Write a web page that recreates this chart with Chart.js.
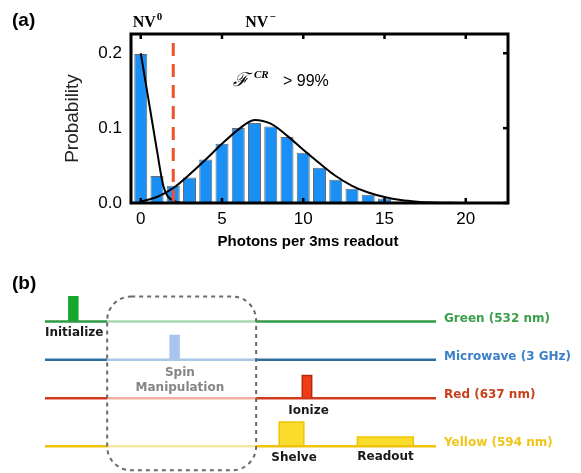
<!DOCTYPE html>
<html>
<head>
<meta charset="utf-8">
<script src="https://cdn.jsdelivr.net/npm/chart.js@4"></script>
<style>
  body { margin: 0; background: #fff; }
  #wrap { position: relative; width: 581px; height: 473px; }
  canvas { position: absolute; left: 0; }
  #histChart { top: 0; }
  #seqChart { top: 260px; }
</style>
</head>
<body>
<div id="wrap">
  <canvas id="histChart" width="581" height="260"></canvas>
  <canvas id="seqChart" width="581" height="213"></canvas>
</div>
<script>
// panel (a): photon count histogram
const photonBins = [0, 1, 2, 3, 4, 5, 6, 7, 8, 9, 10, 11, 12, 13, 14, 15, 16, 17];
const probability = [0.199, 0.036, 0.023, 0.034, 0.058, 0.079, 0.100, 0.107, 0.102, 0.088, 0.067, 0.047, 0.031, 0.019, 0.011, 0.006, 0.002, 0.001];
const nv0FitX = [0, 0.5, 1, 1.4, 2, 2.5, 3];
const nv0FitY = [0.2, 0.135, 0.07, 0.022, 0.003, 0.0005, 0];
const nvmFitX = [0, 1, 2, 3, 4, 5, 6, 7, 8, 9, 10, 11, 12, 13, 14, 15, 16, 17, 18, 19, 20, 22.6];
const nvmFitY = [0.002, 0.008, 0.02, 0.038, 0.058, 0.079, 0.098, 0.111, 0.106, 0.09, 0.071, 0.053, 0.036, 0.023, 0.014, 0.008, 0.004, 0.0018, 0.0007, 0.0002, 0.0001, 0];
const threshold = 2;
const xTicks = [0, 5, 10, 15, 20];
const yTicks = [0, 0.1, 0.2];
const xMin = -0.6, xMax = 22.6, yMax = 0.2257;

// panel (b): pulse sequence
const channels = ['Green (532 nm)', 'Microwave (3 GHz)', 'Red (637 nm)', 'Yellow (594 nm)'];
const channelLevel = [4, 3, 2, 0.75];
const pulseChannel = [0, 1, 2, 3, 3];
const pulseStart = [6.1, 32.0, 65.8, 59.9, 79.9];
const pulseEnd = [8.4, 34.3, 68.2, 66.2, 94.2];
const pulseHeight = [0.64, 0.63, 0.59, 0.63, 0.24];
const boxStart = 15.9, boxEnd = 54.0;

const lineColor = ['#2f9a45', '#2c6e9e', '#cf3a1f', '#f1c20c'];
const fadeColor = ['#a9d9b2', '#a9c8e6', '#f2aea0', '#f7e6a0'];
const labelColor = ['#3aa04a', '#3d80c6', '#c8401e', '#f2c318'];
const pulseFill = ['#13a82b', '#a9c5ee', '#f23c16', '#f9dc2c', '#f9dc2c'];
const pulseBorder = ['#13a82b', '#a9c5ee', '#b02a10', '#eec400', '#eec400'];

const histDecor = {
  id: 'histDecor',
  afterDraw(chart) {
    const { ctx, chartArea: a, scales: { x, y } } = chart;
    ctx.save();
    ctx.strokeStyle = '#000';
    ctx.lineWidth = 3;
    ctx.strokeRect(a.left, a.top, a.right - a.left, a.bottom - a.top);
    ctx.lineWidth = 2.5;
    xTicks.forEach(v => {
      const px = x.getPixelForValue(v);
      ctx.beginPath();
      ctx.moveTo(px, a.top); ctx.lineTo(px, a.top + 5);
      ctx.moveTo(px, a.bottom); ctx.lineTo(px, a.bottom - 5);
      ctx.stroke();
    });
    yTicks.forEach(v => {
      const py = y.getPixelForValue(v);
      ctx.beginPath();
      ctx.moveTo(a.right, py); ctx.lineTo(a.right - 5, py);
      ctx.stroke();
    });

    ctx.fillStyle = '#000';
    ctx.textBaseline = 'alphabetic';
    ctx.font = 'bold 19px "Liberation Sans", Arial, sans-serif';
    ctx.fillText('(a)', 12, 26);

    // NV labels
    const nvLabel = (txt, sup, cx) => {
      ctx.font = 'bold 16px "Liberation Serif", serif';
      const w1 = ctx.measureText(txt).width;
      ctx.font = 'bold 11px "Liberation Serif", serif';
      const w2 = ctx.measureText(sup).width;
      const left = cx - (w1 + w2) / 2;
      ctx.font = 'bold 16px "Liberation Serif", serif';
      ctx.fillText(txt, left, 27);
      ctx.font = 'bold 11px "Liberation Serif", serif';
      ctx.fillText(sup, left + w1 + 1, 20);
    };
    nvLabel('NV', '0', 147);
    nvLabel('NV', '\u2212', 260);

    // fidelity annotation
    ctx.font = 'italic 19px "DejaVu Serif", serif';
    ctx.fillText('\u2131', 233, 86);
    ctx.font = 'italic bold 11px "Liberation Serif", serif';
    ctx.fillText('CR', 254, 78);
    ctx.font = '16px "Liberation Sans", Arial, sans-serif';
    ctx.fillText('> 99%', 283, 86);

    // x axis title
    ctx.font = 'bold 15px "Liberation Sans", Arial, sans-serif';
    ctx.textAlign = 'center';
    ctx.textBaseline = 'middle';
    ctx.fillText('Photons per 3ms readout', 308, 242);
    ctx.restore();
  }
};

new Chart(document.getElementById('histChart'), {
  type: 'bar',
  data: {
    datasets: [
      {
        type: 'bar',
        data: photonBins.map((b, i) => ({ x: b, y: probability[i] })),
        backgroundColor: '#1a8ff5',
        borderColor: '#6b6b6b',
        borderWidth: 1,
        barPercentage: 0.8,
        categoryPercentage: 1,
        order: 3
      },
      {
        type: 'line',
        data: nv0FitX.map((v, i) => ({ x: v, y: nv0FitY[i] })),
        borderColor: '#000',
        borderWidth: 2,
        pointRadius: 0,
        cubicInterpolationMode: 'monotone',
        order: 2
      },
      {
        type: 'line',
        data: nvmFitX.map((v, i) => ({ x: v, y: nvmFitY[i] })),
        borderColor: '#000',
        borderWidth: 2,
        pointRadius: 0,
        cubicInterpolationMode: 'monotone',
        order: 2
      },
      {
        type: 'line',
        data: [{ x: threshold, y: 0 }, { x: threshold, y: yMax }],
        borderColor: '#f0502a',
        borderWidth: 3,
        borderDash: [13, 8],
        pointRadius: 0,
        order: 1
      }
    ]
  },
  options: {
    responsive: false,
    animation: false,
    devicePixelRatio: 1,
    layout: { padding: { left: 0, right: 73, top: 34, bottom: 0 } },
    plugins: { legend: { display: false }, tooltip: { enabled: false } },
    scales: {
      x: {
        type: 'linear',
        offset: false,
        min: xMin,
        max: xMax,
        afterBuildTicks: s => { s.ticks = xTicks.map(v => ({ value: v })); },
        afterFit: s => { s.height = 57; },
        ticks: { color: '#000', font: { size: 17, family: 'Liberation Sans' }, padding: 6, maxRotation: 0, autoSkip: false },
        grid: { display: false, drawTicks: false, offset: false },
        border: { display: false }
      },
      y: {
        min: 0,
        max: yMax,
        afterBuildTicks: s => { s.ticks = yTicks.map(v => ({ value: v })); },
        afterFit: s => { s.width = 131; },
        ticks: { color: '#000', font: { size: 17, family: 'Liberation Sans' }, padding: 9, callback: v => v.toFixed(1) },
        grid: { display: false, drawTicks: false },
        border: { display: false },
        title: {
          display: true,
          text: 'Probability',
          color: '#222',
          font: { size: 19, family: 'Liberation Sans' },
          padding: { top: 61, bottom: 0 }
        }
      }
    }
  },
  plugins: [histDecor]
});

// build panel (b) datasets
const seqDatasets = [];
channels.forEach((name, c) => {
  const lvl = channelLevel[c];
  seqDatasets.push({
    data: [0, boxStart, boxEnd, 100].map(t => ({ x: t, y: lvl })),
    borderWidth: 2.5,
    pointRadius: 0,
    segment: {
      borderColor: ctx => (ctx.p0.parsed.x >= boxStart && ctx.p1.parsed.x <= boxEnd) ? fadeColor[c] : lineColor[c]
    },
    borderColor: lineColor[c]
  });
});
pulseChannel.forEach((c, i) => {
  const lvl = channelLevel[c];
  const top = lvl + pulseHeight[i];
  seqDatasets.push({
    data: [
      { x: pulseStart[i], y: lvl },
      { x: pulseStart[i], y: top },
      { x: pulseEnd[i], y: top },
      { x: pulseEnd[i], y: lvl }
    ],
    borderColor: pulseBorder[i],
    backgroundColor: pulseFill[i],
    borderWidth: 1.5,
    pointRadius: 0,
    fill: { value: lvl }
  });
});

const seqDecor = {
  id: 'seqDecor',
  afterDraw(chart) {
    const { ctx, chartArea: a, scales: { x, y } } = chart;
    ctx.save();
    // spin manipulation window
    const bx0 = x.getPixelForValue(boxStart), bx1 = x.getPixelForValue(boxEnd);
    const by0 = y.getPixelForValue(4.65), by1 = y.getPixelForValue(0.12);
    ctx.strokeStyle = '#6a6a6a';
    ctx.lineWidth = 2;
    ctx.setLineDash([4, 4]);
    ctx.beginPath();
    ctx.roundRect(bx0, by0, bx1 - bx0, by1 - by0, 24);
    ctx.stroke();
    ctx.setLineDash([]);

    ctx.fillStyle = '#000';
    ctx.textBaseline = 'middle';
    ctx.font = 'bold 19px "Liberation Sans", Arial, sans-serif';
    ctx.fillText('(b)', 12, 24);

    ctx.font = 'bold 12px "DejaVu Sans", Verdana, sans-serif';
    ctx.fillStyle = '#1a1a1a';
    ctx.textAlign = 'left';
    ctx.fillText('Initialize', x.getPixelForValue(0), y.getPixelForValue(channelLevel[0] - 0.3));
    ctx.textAlign = 'center';
    ctx.fillText('Ionize', x.getPixelForValue(67.4), y.getPixelForValue(channelLevel[2] - 0.34));
    ctx.fillText('Shelve', x.getPixelForValue(63.7), y.getPixelForValue(channelLevel[3] - 0.31));
    ctx.fillText('Readout', x.getPixelForValue(87.1), y.getPixelForValue(channelLevel[3] - 0.29));
    ctx.fillStyle = '#858585';
    ctx.fillText('Spin', x.getPixelForValue(34.5), y.getPixelForValue(2.66));
    ctx.fillText('Manipulation', x.getPixelForValue(34.5), y.getPixelForValue(2.26));

    ctx.textAlign = 'left';
    channels.forEach((name, c) => {
      ctx.fillStyle = labelColor[c];
      ctx.fillText(name, a.right + 8, y.getPixelForValue(channelLevel[c]) - 3);
    });
    ctx.restore();
  }
};

new Chart(document.getElementById('seqChart'), {
  type: 'line',
  data: { datasets: seqDatasets },
  options: {
    responsive: false,
    animation: false,
    devicePixelRatio: 1,
    layout: { padding: { left: 45, right: 145, top: 0, bottom: 0 } },
    plugins: { legend: { display: false }, tooltip: { enabled: false } },
    elements: { line: { tension: 0 } },
    scales: {
      x: { type: 'linear', min: 0, max: 100, display: false },
      y: { min: 0.05, max: 5.6, display: false }
    }
  },
  plugins: [seqDecor]
});
</script>
</body>
</html>
